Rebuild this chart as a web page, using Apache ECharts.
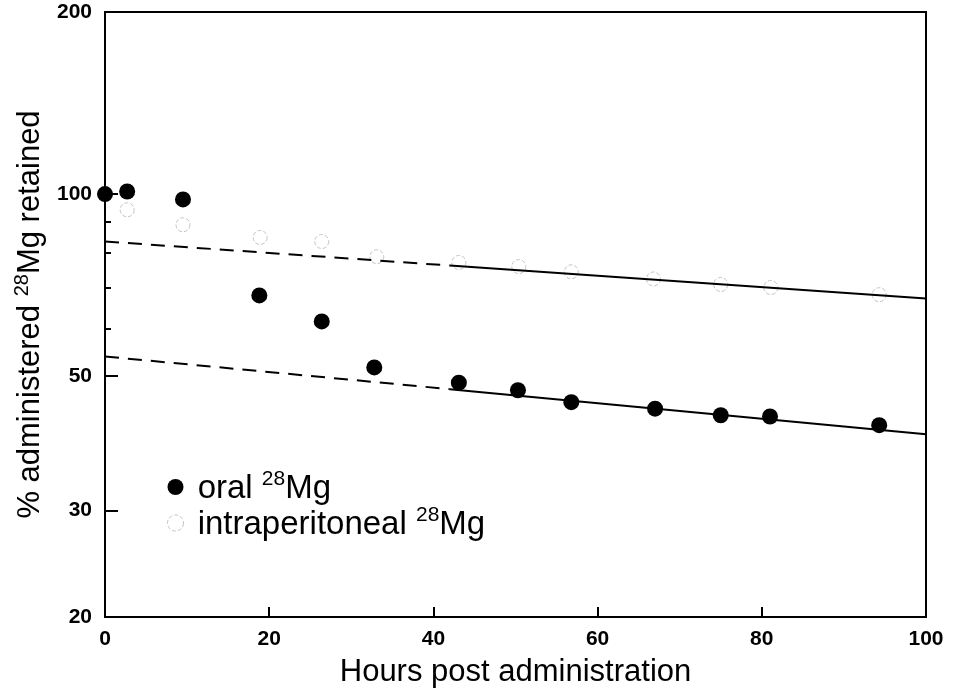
<!DOCTYPE html>
<html>
<head>
<meta charset="utf-8">
<script src="https://cdn.jsdelivr.net/npm/echarts@6/dist/echarts.min.js"></script>
<style>html,body{margin:0;padding:0;background:#fff}#c{width:955px;height:693px}</style>
</head>
<body>
<div id="c"></div>
<script>
// ---- data ----
const oralHours = [0, 2.7, 9.5, 18.8, 26.4, 32.8, 43.1, 50.3, 56.8, 67.0, 75.0, 81.0, 94.3];
const oralVals  = [100, 101, 98, 68, 61.6, 51.7, 48.8, 47.4, 45.3, 44.2, 43.1, 42.9, 41.5];
const ipHours = [2.7, 9.5, 18.9, 26.4, 33.1, 43.1, 50.4, 56.8, 66.8, 75.0, 81.1, 94.3];
const ipVals  = [94.2, 89, 84.8, 83.5, 78.8, 77.1, 75.9, 74.4, 72.4, 70.9, 70.1, 68.2];
const fitHours = [0, 42, 100];
const ipFit   = [83.5, 76.2, 67.2];
const oralFit = [53.9, 47.6, 40.1];
const xTicks = [0, 20, 40, 60, 80, 100];
const yLabelTicks = [20, 30, 50, 100, 200];
const yMajorTicks = [20, 30, 50, 100];
const yMinorTicks = [60, 70, 80, 90];

const pairs = (xs, ys) => xs.map((x, i) => [x, ys[i]]);
const FONT = '"Liberation Sans", Arial, sans-serif';
const titleRich = {
  n: { fontFamily: FONT, fontSize: 31, color: '#000', verticalAlign: 'bottom' },
  sup: { fontFamily: FONT, fontSize: 20, color: '#000', verticalAlign: 'bottom', padding: [0, 0, 14, 0] }
};
const legendRich = {
  n: { fontFamily: FONT, fontSize: 33, color: '#000', verticalAlign: 'bottom' },
  sup: { fontFamily: FONT, fontSize: 21, color: '#000', verticalAlign: 'bottom', padding: [0, 0, 15, 0] }
};

const chart = echarts.init(document.getElementById('c'), null, { renderer: 'canvas' });
chart.setOption({
  animation: false,
  backgroundColor: '#fff',
  grid: { left: 105, right: 29, top: 12, bottom: 75, show: true, borderColor: '#000', borderWidth: 2, backgroundColor: 'transparent' },
  legend: {
    orient: 'vertical', left: 167, top: 469, itemGap: 0, padding: 0,
    itemWidth: 16, itemHeight: 16,
    data: [
      { name: 'oral', icon: 'circle', itemStyle: { color: '#000', opacity: 1 } },
      { name: 'ip', icon: 'circle', itemStyle: { color: '#fff', borderColor: '#c4c4c4', borderWidth: 1, borderType: 'dashed', opacity: 1 } }
    ],
    formatter: function (name) {
      return name === 'oral' ? '{n| oral }{sup|28}{n|Mg}' : '{n| intraperitoneal }{sup|28}{n|Mg}';
    },
    textStyle: { rich: legendRich }
  },
  xAxis: {
    type: 'value', min: 0, max: 100, interval: 20,
    name: 'Hours post administration', nameLocation: 'middle', nameGap: 40,
    nameTextStyle: { fontFamily: FONT, fontSize: 31, color: '#000' },
    axisLine: { lineStyle: { color: '#000', width: 2 } },
    axisTick: { inside: true, length: 10, lineStyle: { color: '#000', width: 2 }, customValues: [20, 40, 60, 80] },
    axisLabel: { customValues: xTicks, margin: 12, fontFamily: FONT, fontSize: 21, fontWeight: 'bold', color: '#000' },
    splitLine: { show: false }
  },
  yAxis: [{
    type: 'log', logBase: 10, min: 20, max: 200,
    name: '{n|% administered }{sup|28}{n|Mg retained}', nameLocation: 'middle', nameGap: 58,
    nameTextStyle: { rich: titleRich },
    axisLine: { lineStyle: { color: '#000', width: 2 } },
    axisTick: { inside: true, length: 13, lineStyle: { color: '#000', width: 2 }, customValues: yMajorTicks },
    axisLabel: { customValues: yLabelTicks, margin: 13, fontFamily: FONT, fontSize: 21, fontWeight: 'bold', color: '#000' },
    splitLine: { show: false }
  }, {
    type: 'log', logBase: 10, min: 20, max: 200, position: 'left',
    axisLine: { show: false },
    axisTick: { inside: true, length: 6, lineStyle: { color: '#000', width: 2 }, customValues: yMinorTicks },
    axisLabel: { show: false },
    splitLine: { show: false }
  }],
  series: [
    {
      name: 'ip', type: 'scatter', data: pairs(ipHours, ipVals), symbol: 'circle', symbolSize: 14,
      itemStyle: { color: '#fff', borderColor: '#c4c4c4', borderWidth: 1, borderType: 'dashed', opacity: 1 }, z: 2
    },
    {
      name: 'ipFitDash', type: 'line', data: pairs(fitHours.slice(0, 2), ipFit.slice(0, 2)), symbol: 'none',
      lineStyle: { color: '#000', width: 2, type: [14, 9] }, z: 3
    },
    {
      name: 'ipFit', type: 'line', data: pairs(fitHours.slice(1), ipFit.slice(1)), symbol: 'none',
      lineStyle: { color: '#000', width: 2 }, z: 3
    },
    {
      name: 'oralFitDash', type: 'line', data: pairs(fitHours.slice(0, 2), oralFit.slice(0, 2)), symbol: 'none',
      lineStyle: { color: '#000', width: 2, type: [14, 9] }, z: 3
    },
    {
      name: 'oralFit', type: 'line', data: pairs(fitHours.slice(1), oralFit.slice(1)), symbol: 'none',
      lineStyle: { color: '#000', width: 2 }, z: 3
    },
    {
      name: 'oral', type: 'scatter', data: pairs(oralHours, oralVals), symbol: 'circle', symbolSize: 16,
      itemStyle: { color: '#000', opacity: 1 }, z: 4
    }
  ]
});
</script>
</body>
</html>
